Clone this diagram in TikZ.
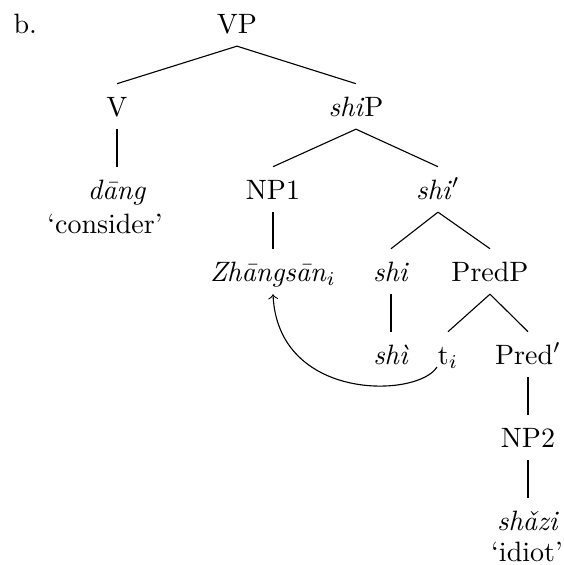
\documentclass[tikz,border=0pt]{standalone}
\usetikzlibrary{calc}
\begin{document}
\begin{tikzpicture}[x=0.357pt,y=-0.357pt,
  lab/.style={anchor=base, text height=6.83pt, text depth=0pt, inner xsep=1pt, inner ysep=4.5pt},
  br/.style={draw, line width=0.4pt}]
\useasboundingbox (0,0) rectangle (564,565);
\node[anchor=base west, inner sep=0pt] (b) at (13,33) {b.};
\node[lab] (VP) at (237,33) {VP};
\node[lab] (V) at (117,116) {V};
\node[lab] (shiP) at (356,116) {\textit{shi}P};
\node[lab] (dang) at (117,199) {\textit{dāng}};
\node[anchor=base] (consider) at (105,233) {‘consider’};
\node[lab] (NP1) at (273,199) {NP1};
\node[lab] (shibar) at (438,199) {\textit{shi}$'$};
\node[lab] (Zh) at (273,281) {\textit{Zhāngsān}$_i$};
\node[lab] (shi) at (391,281) {\textit{shi}};
\node[lab] (PredP) at (490,281) {PredP};
\node[lab] (shi2) at (391,364) {\textit{shì}};
\node[lab] (t) at (448,364) {t$_i$};
\node[lab] (Predbar) at (528,364) {Pred$'$};
\node[lab] (NP2) at (528,447) {NP2};
\node[lab] (shazi) at (528,530) {\textit{shǎzi}};
\node[anchor=base] (idiot) at (527,561) {‘idiot’};
\draw[br] (VP.south) -- (V.north);
\draw[br] (VP.south) -- (shiP.north);
\draw[br] (V.south) -- (dang.north);
\draw[br] (shiP.south) -- (NP1.north);
\draw[br] (shiP.south) -- (shibar.north);
\draw[br] (NP1.south) -- (Zh.north);
\draw[br] (shibar.south) -- (shi.north);
\draw[br] (shibar.south) -- (PredP.north);
\draw[br] (shi.south) -- (shi2.north);
\draw[br] (PredP.south) -- (t.north);
\draw[br] (PredP.south) -- (Predbar.north);
\draw[br] (Predbar.south) -- (NP2.north);
\draw[br] (NP2.south) -- (shazi.north);
\draw[br,->] ($(t.base)+(-11,3)$) .. controls (418,398) and (278,402) .. (Zh.south);
\end{tikzpicture}
\end{document}
